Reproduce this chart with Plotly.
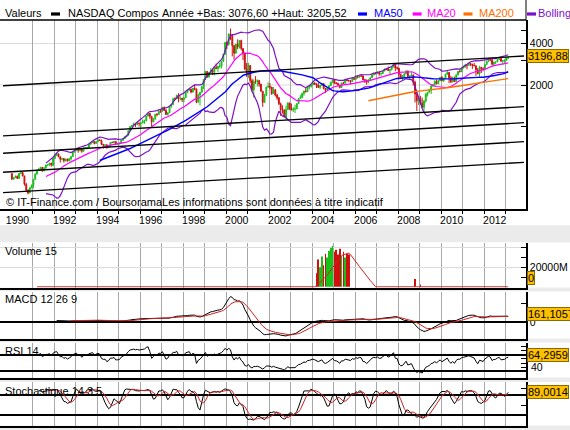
import numpy as np
import pandas as pd
import plotly.graph_objects as go

W, H = 570, 430

# ---------------- data (monthly, Jan 1990 - Feb 2013) ----------------
first_open = 454.8
close_values = [
    415.8, 425.8, 435.5, 420.1, 458.0, 462.3, 438.2, 381.2, 344.5, 329.8, 359.1, 373.8,
    414.2, 453.1, 482.3, 484.7, 506.1, 475.9, 502.0, 525.7, 526.9, 542.9, 523.9, 586.3,
    620.2, 633.5, 603.8, 578.7, 585.3, 563.6, 580.8, 563.1, 583.3, 605.2, 652.7, 677.0,
    696.3, 670.8, 690.1, 661.4, 700.5, 704.0, 704.7, 742.8, 763.0, 779.3, 754.4, 776.8,
    800.5, 792.5, 743.5, 733.8, 735.2, 706.0, 722.2, 765.6, 764.3, 777.5, 750.3, 752.0,
    755.2, 793.7, 817.2, 844.0, 864.6, 933.5, 1001.2, 1020.1, 1043.5, 1036.1, 1059.2, 1052.1,
    1059.8, 1100.1, 1101.4, 1190.5, 1243.4, 1185.0, 1080.6, 1141.5, 1226.9, 1221.5, 1292.6, 1291.0,
    1379.9, 1309.0, 1221.7, 1260.8, 1400.3, 1442.1, 1593.8, 1587.3, 1685.7, 1593.6, 1600.6, 1570.4,
    1619.4, 1770.5, 1835.7, 1868.4, 1778.9, 1894.7, 1872.4, 1499.3, 1694.0, 1771.4, 1949.5, 2192.7,
    2505.9, 2288.0, 2461.4, 2542.9, 2470.5, 2686.1, 2638.5, 2739.4, 2746.2, 2966.4, 3336.2, 4069.3,
    3940.4, 4696.7, 4572.8, 3860.7, 3400.9, 3966.1, 3767.0, 4206.4, 3672.8, 3370.0, 2597.9, 2470.5,
    2772.7, 2151.8, 1840.3, 2116.2, 2110.5, 2160.5, 2027.1, 1805.4, 1498.8, 1690.2, 1930.6, 1950.4,
    1934.0, 1731.5, 1845.4, 1688.2, 1615.7, 1463.2, 1328.3, 1314.9, 1172.1, 1329.8, 1478.8, 1335.5,
    1320.9, 1337.5, 1341.2, 1464.3, 1595.9, 1622.8, 1735.0, 1810.5, 1786.9, 1932.2, 1960.3, 2003.4,
    2066.2, 2029.8, 1994.2, 1920.2, 1986.7, 2047.8, 1887.4, 1838.1, 1896.8, 1975.0, 2096.8, 2175.4,
    2062.4, 2051.7, 1999.2, 1921.7, 2068.2, 2057.0, 2184.8, 2152.1, 2151.7, 2120.3, 2232.8, 2205.3,
    2305.8, 2281.4, 2339.8, 2322.6, 2178.9, 2172.1, 2091.5, 2183.8, 2258.4, 2366.7, 2431.8, 2415.3,
    2463.9, 2416.2, 2421.6, 2525.1, 2604.5, 2603.2, 2546.3, 2596.4, 2701.5, 2859.1, 2661.0, 2652.3,
    2389.9, 2271.5, 2279.1, 2412.8, 2522.7, 2293.0, 2325.6, 2367.5, 2091.9, 1721.0, 1535.6, 1577.0,
    1476.4, 1377.8, 1528.6, 1717.3, 1774.3, 1835.0, 1979.0, 2009.1, 2122.4, 2045.1, 2144.6, 2269.2,
    2147.4, 2238.3, 2398.0, 2461.2, 2257.0, 2109.2, 2254.7, 2114.0, 2368.6, 2507.4, 2498.2, 2652.9,
    2700.1, 2782.3, 2781.1, 2873.5, 2835.3, 2773.5, 2756.4, 2579.5, 2415.4, 2684.4, 2620.3, 2605.2,
    2813.8, 2966.9, 3091.6, 3046.4, 2827.3, 2935.1, 2939.5, 3067.0, 3116.2, 2977.2, 3010.2, 3019.5,
    3142.1, 3196.88,
]
high_values = [
    459, 428, 441, 441, 459, 470, 470, 438, 389, 351, 363, 380,
    415, 455, 486, 502, 507, 508, 506, 527, 531, 545, 545, 587,
    630, 645, 635, 606, 590, 590, 582, 585, 590, 607, 654, 677,
    697, 704, 693, 691, 704, 711, 707, 743, 763, 787, 781, 779,
    803, 804, 804, 745, 742, 745, 725, 766, 778, 784, 780, 760,
    766, 795, 819, 844, 867, 937, 1006, 1024, 1067, 1060, 1075, 1070,
    1063, 1123, 1120, 1191, 1250, 1249, 1185, 1143, 1228, 1250, 1296, 1317,
    1384, 1394, 1341, 1262, 1402, 1455, 1594, 1630, 1697, 1745, 1655, 1615,
    1620, 1771, 1836, 1911, 1875, 1895, 2014, 1880, 1735, 1780, 1950, 2193,
    2534, 2510, 2471, 2653, 2625, 2687, 2864, 2740, 2888, 2967, 3337, 4090,
    4150, 4697, 5132, 4572, 3910, 3966, 4290, 4234, 4260, 3700, 3450, 2890,
    2892, 2780, 2230, 2200, 2320, 2200, 2160, 2040, 1810, 1725, 1942, 2098,
    2060, 1934, 1930, 1862, 1730, 1640, 1490, 1425, 1330, 1420, 1500, 1490,
    1467, 1380, 1430, 1470, 1595, 1690, 1760, 1810, 1915, 1940, 1990, 2010,
    2154, 2100, 2060, 2080, 2000, 2060, 2050, 1880, 1930, 1990, 2110, 2191,
    2185, 2100, 2090, 2010, 2080, 2110, 2220, 2220, 2180, 2170, 2245, 2275,
    2333, 2320, 2345, 2375, 2350, 2205, 2185, 2190, 2265, 2370, 2465, 2470,
    2508, 2532, 2460, 2560, 2630, 2640, 2725, 2600, 2720, 2861, 2860, 2725,
    2661, 2420, 2360, 2430, 2552, 2550, 2350, 2470, 2380, 2150, 1780, 1625,
    1670, 1620, 1560, 1750, 1780, 1880, 1980, 2040, 2170, 2190, 2175, 2295,
    2326, 2245, 2410, 2535, 2490, 2330, 2300, 2300, 2380, 2520, 2595, 2675,
    2765, 2840, 2800, 2888, 2890, 2840, 2890, 2765, 2660, 2755, 2710, 2690,
    2815, 2985, 3135, 3100, 3075, 2942, 2960, 3080, 3197, 3140, 3025, 3070,
    3155, 3205.52,
]
low_values = [
    409, 411, 424, 416, 419, 452, 435, 372, 340, 322, 328, 356,
    355, 412, 447, 476, 480, 470, 475, 490, 518, 519, 512, 515,
    582, 610, 598, 547, 569, 547, 558, 556, 561, 566, 601, 648,
    662, 645, 660, 645, 660, 690, 683, 704, 740, 761, 742, 752,
    774, 785, 735, 690, 712, 690, 702, 720, 759, 753, 733, 735,
    740, 756, 790, 812, 838, 865, 932, 980, 1014, 992, 1020, 1000,
    990, 1054, 1046, 1090, 1185, 1138, 1000, 1075, 1117, 1185, 1220, 1255,
    1287, 1300, 1214, 1201, 1260, 1370, 1440, 1560, 1585, 1500, 1545, 1505,
    1495, 1620, 1755, 1815, 1740, 1760, 1830, 1475, 1495, 1420, 1770, 1870,
    2190, 2250, 2260, 2400, 2360, 2345, 2600, 2490, 2640, 2640, 2940, 3350,
    3650, 3855, 4250, 3227, 3042, 3380, 3640, 3680, 3570, 3030, 2600, 2290,
    2250, 2060, 1795, 1619, 2040, 1950, 1940, 1790, 1387, 1480, 1660, 1905,
    1860, 1695, 1727, 1650, 1560, 1430, 1192, 1240, 1160, 1108, 1317, 1330,
    1310, 1270, 1253, 1350, 1458, 1580, 1600, 1670, 1770, 1780, 1860, 1915,
    2000, 2000, 1900, 1915, 1870, 1960, 1860, 1750, 1820, 1890, 1970, 2080,
    2030, 2020, 1980, 1890, 1910, 2030, 2050, 2130, 2110, 2020, 2110, 2185,
    2190, 2235, 2258, 2290, 2165, 2065, 2012, 2060, 2170, 2250, 2350, 2395,
    2400, 2335, 2330, 2400, 2520, 2560, 2535, 2387, 2550, 2690, 2520, 2580,
    2200, 2250, 2155, 2265, 2395, 2290, 2175, 2300, 1980, 1493, 1295, 1430,
    1440, 1377, 1265, 1490, 1650, 1780, 1720, 1930, 1980, 2020, 2020, 2140,
    2140, 2100, 2230, 2380, 2060, 2060, 2090, 2100, 2110, 2355, 2470, 2495,
    2650, 2680, 2603, 2760, 2740, 2610, 2735, 2330, 2400, 2298, 2440, 2520,
    2626, 2810, 2950, 2970, 2780, 2727, 2835, 2930, 3055, 2950, 2795, 2880,
    3000, 3076.60,
]
start_year = 1990

# volume (millions), only months where the feed shows a value
vol_months = ['2004-03', '2004-04', '2004-05', '2004-06', '2004-07', '2004-08', '2004-09',
              '2004-10', '2004-11', '2004-12', '2005-01', '2005-02', '2005-03', '2005-04',
              '2005-05', '2005-06', '2005-07', '2005-08', '2005-09', '2008-10', '2009-01']
vol_values = [14000, 28000, 20000, 31000, 22000, 34000, 30000, 37000, 40000, 42000, 36000,
              38000, 33000, 39000, 32000, 36000, 30000, 34000, 33000, 8000, 2500]

# trend lines (price at left and right edge of panel)
trend_x = [1989.63, 2013.86]
trend_left = [1976, 854, 640, 466, 331]
trend_right = [3247, 1392, 1066, 776, 550]

year_grid = list(range(1991, 2014))
label_years = list(range(1990, 2013, 2))
label_pos = [1990.3] + [y + 0.5 for y in label_years[1:]]

last_price_text = '3196,88'
vol_last_text = '0'
macd_last_text = '161,1057'
rsi_last_text = '64,2959'
stoch_last_text = '89,0014'

# ---------------- derived series ----------------
n = len(close_values)
t = np.array([start_year + (i + 0.5) / 12 for i in range(n)])
close = pd.Series(close_values, dtype=float)
high = pd.Series(high_values, dtype=float)
low = pd.Series(low_values, dtype=float)
opn = close.shift(1)
opn.iloc[0] = first_open

ma20 = close.rolling(20).mean()
ma50 = close.rolling(50).mean()
ma200 = close.rolling(200).mean()
sd20 = close.rolling(20).std(ddof=0)
bb_up = ma20 + 2 * sd20
bb_dn = ma20 - 2 * sd20

vol = pd.Series(0.0, index=range(n))
for m, v in zip(vol_months, vol_values):
    y, mo = m.split('-')
    vol[(int(y) - start_year) * 12 + int(mo) - 1] = v
vol_ma = vol.rolling(15).mean()
vol_idx = [i for i in range(n) if vol[i] > 0]

ema12 = close.ewm(span=12, adjust=False).mean()
ema26 = close.ewm(span=26, adjust=False).mean()
macd = (ema12 - ema26)
macd[:25] = np.nan
signal = macd.ewm(span=9, adjust=False, ignore_na=True).mean()
signal[:33] = np.nan

delta = close.diff()
gain = delta.clip(lower=0)
loss = -delta.clip(upper=0)
ag = gain.ewm(alpha=1 / 14, adjust=False, min_periods=14).mean()
al = loss.ewm(alpha=1 / 14, adjust=False, min_periods=14).mean()
rsi = 100 - 100 / (1 + ag / al)

ll = low.rolling(14).min()
hh = high.rolling(14).max()
fk = 100 * (close - ll) / (hh - ll)
sk = fk.rolling(3).mean()
sd = sk.rolling(5).mean()

# ---------------- layout helpers ----------------
def dom(top_px, bot_px):
    return [1 - bot_px / H, 1 - top_px / H]

def ppy(px):
    return 1 - px / H

F = "Liberation Sans, Arial, sans-serif"
GRID = '#a8a8a8'
XR = [1989.488, 2013.953]
XD = [0, 526 / W]

panels = {
    'main': (20, 209.3),
    'vol': (242.5, 287.5),
    'macd': (291.5, 338.5),
    'rsi': (342.5, 377.5),
    'stoch': (382, 425.5),
}

fig = go.Figure()

# candles
fig.add_trace(go.Candlestick(
    x=t, open=opn, high=high, low=low, close=close,
    increasing=dict(line=dict(color='#18c018', width=1), fillcolor='#18c018'),
    decreasing=dict(line=dict(color='#d01010', width=1), fillcolor='#d01010'),
    whiskerwidth=0, xaxis='x', yaxis='y', showlegend=False, hoverinfo='skip'))

for yv, col, wd in [(bb_up, '#7a10c8', 1.2), (bb_dn, '#7a10c8', 1.2), (ma20, '#ff00ff', 1.2),
                    (ma50, '#0000ff', 1.4), (ma200, '#ff7000', 1.4)]:
    fig.add_trace(go.Scatter(x=t, y=yv, mode='lines', line=dict(color=col, width=wd),
                             xaxis='x', yaxis='y', showlegend=False, hoverinfo='skip'))

for pl, pr in zip(trend_left, trend_right):
    fig.add_trace(go.Scatter(x=trend_x, y=[pl, pr], mode='lines',
                             line=dict(color='black', width=1.3),
                             xaxis='x', yaxis='y', showlegend=False, hoverinfo='skip'))

# volume
vcols = ['#18c018' if close[i] >= opn[i] else '#d01010' for i in vol_idx]
fig.add_trace(go.Bar(x=t[vol_idx], y=vol[vol_idx], marker=dict(color=vcols, line=dict(width=0)),
                     width=0.03, xaxis='x2', yaxis='y2', showlegend=False, hoverinfo='skip'))
fig.add_trace(go.Scatter(x=t, y=vol_ma, mode='lines', line=dict(color='#d02020', width=1),
                         xaxis='x2', yaxis='y2', showlegend=False, hoverinfo='skip'))

# macd
fig.add_trace(go.Scatter(x=t, y=macd, mode='lines', line=dict(color='black', width=1),
                         xaxis='x3', yaxis='y3', showlegend=False, hoverinfo='skip'))
fig.add_trace(go.Scatter(x=t, y=signal, mode='lines', line=dict(color='#d02020', width=1),
                         xaxis='x3', yaxis='y3', showlegend=False, hoverinfo='skip'))
# rsi
fig.add_trace(go.Scatter(x=t, y=rsi, mode='lines', line=dict(color='black', width=1),
                         xaxis='x4', yaxis='y4', showlegend=False, hoverinfo='skip'))
# stochastic
fig.add_trace(go.Scatter(x=t, y=sk, mode='lines', line=dict(color='black', width=1),
                         xaxis='x5', yaxis='y5', showlegend=False, hoverinfo='skip'))
fig.add_trace(go.Scatter(x=t, y=sd, mode='lines', line=dict(color='#d02020', width=1),
                         xaxis='x5', yaxis='y5', showlegend=False, hoverinfo='skip'))

def xaxis(anchor, labels=False):
    d = dict(domain=XD, range=XR, anchor=anchor, showline=True, linecolor='black', linewidth=1.5,
             showgrid=False, zeroline=False, fixedrange=True,
             minor=dict(tickvals=year_grid, showgrid=True, gridcolor=GRID, gridwidth=1,
                        ticks='outside' if labels else '', ticklen=3, tickcolor='black'),
             rangeslider=dict(visible=False))
    if labels:
        d.update(tickmode='array', tickvals=label_pos,
                 ticktext=[str(y) for y in label_years], ticks='', showticklabels=True,
                 tickfont=dict(family=F, size=10.5, color='black'))
    else:
        d.update(showticklabels=False, ticks='')
    return d

# macd scale calibrated to picture: zero line & peak position
macd_zero_px = 322.4
macd_peak_px = 296.6
mscale = np.nanmax(macd) / (macd_zero_px - macd_peak_px)
mtop, mbot = panels['macd']
macd_range = [-(mbot - macd_zero_px) * mscale, (macd_zero_px - mtop) * mscale]

yax_common = dict(side='right', showline=True, linecolor='black', linewidth=1.5,
                  ticks='inside', ticklen=5, tickcolor='black', zeroline=False, fixedrange=True,
                  tickfont=dict(family=F, size=10.5, color='black'))

fig.update_layout(
    width=W, height=H, margin=dict(l=0, r=0, t=0, b=0),
    paper_bgcolor='#ebebeb', plot_bgcolor='white', showlegend=False,
    xaxis=xaxis('y', labels=True),
    xaxis2=xaxis('y2'),
    xaxis3=xaxis('y3'),
    xaxis4=xaxis('y4'),
    xaxis5=xaxis('y5'),
    yaxis=dict(yax_common, type='log', domain=dom(*panels['main']), anchor='x',
               range=[2.3995, 3.7725], tickmode='array',
               tickvals=[1000, 2000, 3000, 4000, 5000], ticktext=['', '2000', '', '4000', ''],
               showgrid=False),
    yaxis2=dict(yax_common, domain=dom(*panels['vol']), anchor='x2', range=[-700, 45400],
                tickmode='array', tickvals=[20000, 40000], ticktext=['20000M', ''],
                showgrid=True, gridcolor='#dcdcdc',
                minor=dict(tickvals=[10000, 30000], ticks='inside', ticklen=5, tickcolor='black',
                           showgrid=False)),
    yaxis3=dict(yax_common, domain=dom(*panels['macd']), anchor='x3', range=macd_range,
                tickmode='array', tickvals=[0], ticktext=['0'],
                showgrid=True, gridcolor='black', gridwidth=1.5,
                minor=dict(tickvals=[500], ticks='inside', ticklen=5, tickcolor='black',
                           showgrid=False)),
    yaxis4=dict(yax_common, domain=dom(*panels['rsi']), anchor='x4', range=[15, 100],
                tickmode='array', tickvals=[30, 70], ticktext=['', ''],
                showgrid=True, gridcolor='black', gridwidth=1.5,
                minor=dict(tickvals=[40, 50, 60, 80, 90], ticks='inside', ticklen=5,
                           tickcolor='black', showgrid=False)),
    yaxis5=dict(yax_common, domain=dom(*panels['stoch']), anchor='x5', range=[-10, 120],
                tickmode='array', tickvals=[20, 80], ticktext=['', ''],
                showgrid=True, gridcolor='black', gridwidth=1.5,
                minor=dict(tickvals=[50, 100], ticks='inside', ticklen=5,
                           tickcolor='black', showgrid=False)),
)

shapes = []
# white panel backgrounds (full width incl. right label strip)
for key, (tp, bp) in panels.items():
    extra = 16 if key == 'main' else 0
    shapes.append(dict(type='rect', xref='paper', yref='paper', x0=0, x1=1,
                       y0=ppy(bp + extra), y1=ppy(tp), fillcolor='white', line=dict(width=0),
                       layer='below'))
# header
shapes.append(dict(type='rect', xref='paper', yref='paper', x0=0, x1=1, y0=ppy(20), y1=1,
                   fillcolor='white', line=dict(width=0), layer='below'))
shapes.append(dict(type='line', xref='paper', yref='paper', x0=0, x1=526 / W, y0=ppy(20),
                   y1=ppy(20), line=dict(color='black', width=1.5)))
shapes.append(dict(type='line', xref='paper', yref='paper', x0=526 / W, x1=526 / W, y0=ppy(20),
                   y1=1, line=dict(color='black', width=1)))
# price gridlines
for gv in [2000, 4000]:
    shapes.append(dict(type='line', xref='x domain', yref='y', x0=0, x1=1, y0=gv, y1=gv,
                       line=dict(color='#dcdcdc', width=1), layer='below'))
# legend swatches
for x0, col in [(51, 'black'), (358, '#0000ff'), (412.6, '#ff00ff'), (463.5, '#ff7000'),
                (527, '#7a10c8')]:
    shapes.append(dict(type='rect', xref='paper', yref='paper', x0=x0 / W, x1=(x0 + 9) / W,
                       y0=ppy(15.6), y1=ppy(12.4), fillcolor=col, line=dict(width=0)))
fig.update_layout(shapes=shapes)

ann = []
def text(x, y, s, color='black', size=11):
    ann.append(dict(xref='paper', yref='paper', x=x / W, y=ppy(y), text=s, showarrow=False,
                    xanchor='left', yanchor='middle', font=dict(family=F, size=size, color=color)))

text(2.5, 13, 'Valeurs')
text(65.5, 13, 'NASDAQ Compos')
text(160, 13, 'Année +Bas: 3076,60 +Haut: 3205,52')
text(371.5, 13, 'MA50', '#0000ff')
text(425, 13, 'MA20', '#ff00ff')
text(477, 13, 'MA200', '#ff7000')
text(536, 13, 'Bolling', '#7a10c8')
text(4, 202.5, '© IT-Finance.com / BoursoramaLes informations sont données à titre indicatif',
     size=11)
text(2.5, 251, 'Volume 15')
text(3, 298.5, 'MACD 12 26 9')
text(2.5, 351, 'RSI 14')
text(2.5, 391, 'Stochastique 14 3 5')

# RSI axis label visible under the value box
ann.append(dict(xref='paper', yref='y4', x=529 / W, y=40, text='40', showarrow=False,
                xanchor='left', yanchor='middle', font=dict(family=F, size=10.5, color='black')))

def vbox(y_px, s):
    ann.append(dict(xref='paper', yref='paper', x=527 / W, y=ppy(y_px), text=s, showarrow=False,
                    xanchor='left', yanchor='middle', bgcolor='#ffc000', bordercolor='#8a6a00',
                    borderwidth=1, borderpad=0, font=dict(family=F, size=11, color='black')))

vbox(55.5, last_price_text)
vbox(278, vol_last_text)
vbox(313.5, macd_last_text)
vbox(355, rsi_last_text)
vbox(391.5, stoch_last_text)

fig.update_layout(annotations=ann)
fig.write_html("out.html")
